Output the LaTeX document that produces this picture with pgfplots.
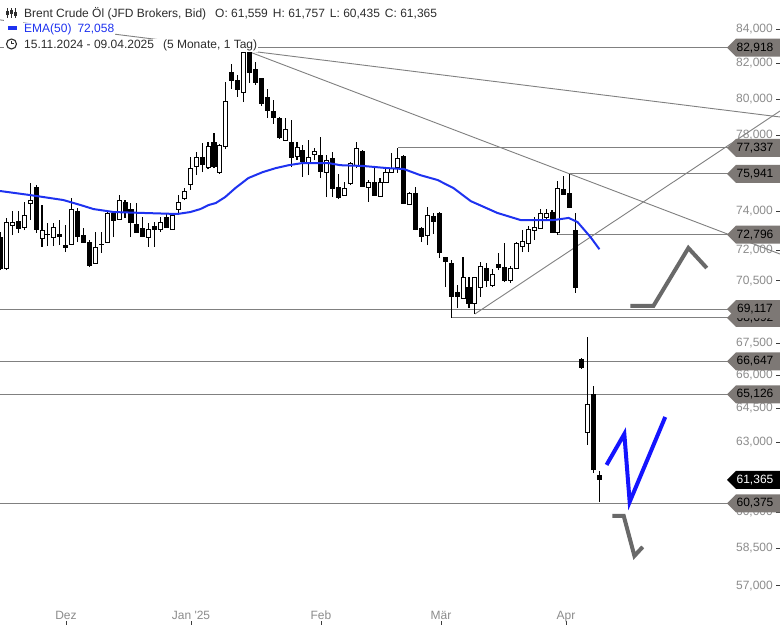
\documentclass[border=0pt]{standalone}
\usepackage{fontspec}
\setmainfont{Liberation Sans}
\usepackage{pgfplots}
\pgfplotsset{compat=1.18}
\usepackage{pgfplotstable}

\definecolor{emablue}{RGB}{30,50,240}
\definecolor{zzblue}{RGB}{20,20,255}
\definecolor{zzgray}{RGB}{105,105,105}
\definecolor{linegray}{RGB}{128,128,128}
\definecolor{taggray}{RGB}{125,120,117}
\definecolor{ticklab}{RGB}{140,140,140}
\definecolor{tickmark}{RGB}{60,60,60}
\definecolor{legtext}{RGB}{45,45,45}

\pgfplotstableread{
i o h l c
0 72.673 72.927 71.022 71.121
1 71.121 73.642 71.022 73.386
2 73.284 74.002 72.775 73.386
3 73.488 74.002 72.876 73.130
4 73.181 74.467 73.028 73.796
5 74.415 75.458 73.539 74.570
6 75.249 75.353 72.876 73.079
7 72.622 74.312 72.169 72.977
8 72.800 73.386 72.219 72.825
9 72.673 73.386 72.219 73.181
10 72.825 73.539 72.270 72.724
11 72.270 73.284 71.918 72.169
12 72.320 74.674 72.270 74.053
13 74.002 74.156 72.420 72.724
14 72.775 73.130 72.400 72.420
15 72.420 72.521 71.170 71.270
16 71.369 72.927 71.350 72.169
17 72.320 72.927 71.868 72.300
18 72.420 73.950 72.400 73.899
19 73.899 73.950 72.673 73.539
20 73.590 74.831 73.570 74.570
21 74.467 74.570 73.642 73.950
22 74.104 74.415 72.673 73.437
23 73.335 74.415 72.900 72.927
24 73.130 73.693 72.673 72.724
25 72.673 73.386 72.169 73.079
26 73.232 73.437 72.169 73.079
27 73.079 73.693 72.927 73.437
28 73.693 73.899 73.160 73.181
29 73.079 73.899 73.060 73.796
30 74.053 74.831 73.796 74.467
31 74.674 75.196 74.570 75.039
32 75.406 76.836 75.091 76.250
33 76.356 77.104 75.880 76.836
34 76.836 77.590 76.038 76.463
35 76.303 77.644 76.197 77.428
36 77.644 78.132 76.250 76.356
37 76.038 77.536 75.933 77.482
38 77.428 80.957 77.266 79.893
39 81.465 81.978 80.563 81.013
40 81.013 81.352 80.115 80.507
41 80.339 82.780 79.837 82.608
42 82.608 82.918 80.901 81.465
43 81.635 82.092 80.788 80.901
44 81.126 81.130 79.615 79.781
45 80.059 80.563 78.953 79.393
46 79.338 79.948 78.624 79.008
47 78.953 79.008 77.806 77.915
48 77.752 78.953 77.698 78.350
49 77.644 78.843 76.303 76.836
50 76.890 77.644 76.676 77.374
51 77.212 77.482 75.774 76.623
52 76.516 77.752 75.880 76.836
53 76.998 77.320 76.676 77.158
54 76.944 77.915 75.721 76.091
55 76.038 76.944 74.727 76.676
56 76.782 77.104 74.727 75.196
57 75.249 75.933 74.622 74.727
58 74.831 75.511 74.779 75.196
59 75.458 76.569 75.353 76.516
60 76.409 77.644 76.250 77.320
61 77.158 77.212 75.280 75.301
62 75.249 75.616 74.467 75.511
63 75.511 76.250 74.810 74.831
64 74.779 75.721 74.727 75.511
65 75.511 76.250 75.458 76.038
66 76.038 77.051 75.986 76.250
67 76.303 77.337 75.986 76.782
68 76.890 76.944 74.400 74.415
69 74.363 74.987 74.312 74.935
70 74.935 75.249 73.028 73.079
71 73.130 73.181 72.420 72.724
72 72.775 74.207 72.270 73.796
73 73.745 73.899 72.825 73.488
74 73.899 73.950 71.618 71.868
75 71.668 71.670 70.187 71.468
76 71.369 71.518 68.692 69.700
77 69.894 70.285 69.167 69.700
78 69.651 71.668 69.630 70.677
79 70.187 70.677 69.167 69.409
80 69.409 70.700 68.880 70.677
81 70.187 71.419 69.700 71.220
82 71.121 71.369 70.187 70.481
83 70.236 71.072 70.187 70.776
84 71.320 71.868 71.022 71.170
85 71.170 72.370 70.432 70.481
86 70.530 71.220 70.383 71.072
87 71.121 72.420 71.100 72.370
88 72.219 73.028 71.918 72.471
89 72.370 73.232 71.918 73.079
90 72.977 73.693 72.521 73.181
91 73.130 74.104 73.110 73.899
92 73.693 74.104 73.590 73.899
93 73.950 74.053 72.876 72.927
94 72.927 75.563 72.796 75.196
95 75.144 75.826 74.860 74.883
96 74.935 75.941 74.190 74.207
97 73.028 73.899 69.894 70.187
98 66.754 66.800 66.291 66.384
99 63.446 67.785 62.875 64.696
100 65.126 65.511 61.661 61.790
101 61.559 61.757 60.435 61.365
}\candles

\pgfplotstablegetrowsof{\candles}
\pgfmathtruncatemacro{\lastrow}{\pgfplotsretval-1}

\newcommand{\ptag}[4]{%
  \fill[#3] (#1) ++(0,9pt) -- ++(-44pt,0) -- ++(-9pt,-9pt) -- ++(9pt,-9pt) -- ++(44pt,0) -- cycle;
  \node[text=#4, inner sep=0pt, font=\fontsize{12}{14}\selectfont] at ([xshift=-25pt]#1) {#2};
}

\begin{document}
\begin{tikzpicture}
\useasboundingbox (0,0) rectangle (780pt,625pt);
\fill[white] (0,0) rectangle (780pt,625pt);
\begin{axis}[
  at={(0pt,0pt)}, anchor=south west,
  scale only axis, width=780pt, height=625pt,
  xmin=-0.08, xmax=131.45,
  ymode=log, ymin=55.468, ymax=85.714,
  axis line style={draw=none},
  tick align=inside,
  major tick length=4pt,
  xtick pos=left, ytick pos=right,
  yticklabel pos=right,
  xtick={11.05,32.13,54.05,74.29,95.37},
  xticklabels={Dez,Jan \textquotesingle25,Feb,Mär,Apr},
  ytick={57,58.5,60,61.5,63,64.5,66,67.5,69,70.5,72,74,76,78,80,82,84},
  yticklabels={{57,000},{58,500},{60,000},{61,500},{63,000},{64,500},{66,000},{67,500},{69,000},{70,500},{72,000},{74,000},{76,000},{78,000},{80,000},{82,000},{84,000}},
  yminorticks=false, xminorticks=false,
  tick style={draw=tickmark, line width=0.8pt},
  yticklabel style={anchor=east, xshift=-7pt, inner sep=0pt, text=ticklab, font=\fontsize{12}{14}\selectfont},
  xticklabel style={anchor=base, yshift=5pt, inner sep=0pt, text=ticklab, font=\fontsize{12}{14}\selectfont},
  clip=true,
  candlewick/.style={draw=black, line width=1.1pt, mark=none},
  candlebody/.style={draw=black, line width=0.9pt, mark=none},
  hline/.style={draw=linegray, line width=0.9pt, mark=none},
]
% horizontal levels
\addplot[hline] coordinates {(-0.08,82.918) (123.2,82.918)};
\addplot[hline] coordinates {(67,77.337) (123.2,77.337)};
\addplot[hline] coordinates {(96,75.941) (123.2,75.941)};
\addplot[hline] coordinates {(94,72.796) (123.2,72.796)};
\addplot[hline] coordinates {(-0.08,69.117) (123.2,69.117)};
\addplot[hline] coordinates {(76,68.692) (123.2,68.692)};
\addplot[hline] coordinates {(-0.08,66.647) (123.2,66.647)};
\addplot[hline] coordinates {(-0.08,65.126) (123.2,65.126)};
\addplot[hline] coordinates {(-0.08,60.375) (123.2,60.375)};
% trend lines
\addplot[hline] coordinates {(-0.08,84.528) (131.45,79.008)};
\addplot[hline] coordinates {(42.0,82.666) (131.45,71.818)};
\addplot[hline] coordinates {(80.0,68.880) (131.45,79.338)};
% candles
\pgfplotsforeachungrouped \r in {0,...,\lastrow}{%
  \pgfplotstablegetelem{\r}{i}\of\candles \let\ci\pgfplotsretval
  \pgfplotstablegetelem{\r}{o}\of\candles \let\co\pgfplotsretval
  \pgfplotstablegetelem{\r}{h}\of\candles \let\ch\pgfplotsretval
  \pgfplotstablegetelem{\r}{l}\of\candles \let\cl\pgfplotsretval
  \pgfplotstablegetelem{\r}{c}\of\candles \let\cc\pgfplotsretval
  \ifdim\cc pt<\co pt \def\cfill{black}\else\def\cfill{white}\fi
  \pgfmathsetmacro\xa{\ci-0.34}\pgfmathsetmacro\xb{\ci+0.34}%
  \edef\temp{\noexpand\addplot[candlewick] coordinates {(\ci,\cl) (\ci,\ch)};
    \noexpand\addplot[candlebody, fill=\cfill] coordinates {(\xa,\co) (\xb,\co) (\xb,\cc) (\xa,\cc)} -- cycle;}%
  \temp
}
% EMA(50)
\addplot[emablue, line width=2pt, line join=round, mark=none] coordinates {
(-0.08,75.039) (5.06,74.831) (10.6,74.570) (13.5,74.312) (15.7,74.104) (19.1,73.950)
(24.1,73.899) (29.8,73.847) (32.0,73.950) (33.7,74.104) (35.1,74.312) (36.3,74.415)
(37.9,74.727) (39.6,75.196) (41.8,75.721) (44.2,76.038) (46.4,76.250) (48.6,76.409)
(50.9,76.516) (53.1,76.516) (55.3,76.516) (57.3,76.409) (61.2,76.356) (65.3,76.250)
(68.0,76.197) (70.8,75.880) (73.7,75.616) (76.4,75.196) (79.3,74.518) (83.8,73.899)
(87.7,73.539) (93.3,73.539) (95.8,73.642) (97.3,73.437) (99.5,72.673) (101.0,72.058)};
% hand drawn scenario paths
\addplot[zzgray, line width=4pt, line join=miter, mark=none] coordinates {(106.2,69.264) (110.1,69.264) (116.0,72.118) (119.1,71.121)};
\addplot[zzblue, line width=4pt, line join=miter, mark=none] coordinates {(102.2,62.005) (105.2,63.358) (106.1,60.428) (112.1,64.112)};
\addplot[zzgray, line width=4pt, line join=miter, mark=none] coordinates {(103.2,59.842) (105.1,59.842) (106.9,58.198) (108.3,58.564)};
% tag anchors
\coordinate (t1) at (axis cs:131.45,82.918);
\coordinate (t2) at (axis cs:131.45,77.337);
\coordinate (t3) at (axis cs:131.45,75.941);
\coordinate (t4) at (axis cs:131.45,72.796);
\coordinate (t5) at (axis cs:131.45,69.117);
\coordinate (t6) at (axis cs:131.45,68.692);
\coordinate (t7) at (axis cs:131.45,66.647);
\coordinate (t8) at (axis cs:131.45,65.126);
\coordinate (t9) at (axis cs:131.45,61.365);
\coordinate (t10) at (axis cs:131.45,60.375);
\end{axis}
% price tags
\ptag{t1}{82,918}{taggray}{black}
\ptag{t2}{77,337}{taggray}{black}
\ptag{t3}{75,941}{taggray}{black}
\ptag{t4}{72,796}{taggray}{black}
\ptag{t6}{68,692}{taggray}{black}
\ptag{t5}{69,117}{taggray}{black}
\ptag{t7}{66,647}{taggray}{black}
\ptag{t8}{65,126}{taggray}{black}
\ptag{t10}{60,375}{taggray}{black}
\ptag{t9}{61,365}{black}{white}
% legend header
\fill[white] (4pt,574pt) rectangle (23pt,621pt);
\draw[legtext, line width=0.9pt] (7.5pt,607pt) -- (7.5pt,617pt);
\draw[legtext, line width=0.9pt] (11.5pt,607pt) -- (11.5pt,617pt);
\draw[legtext, line width=0.9pt] (15.5pt,607pt) -- (15.5pt,617pt);
\fill[legtext] (6.2pt,610pt) rectangle (8.8pt,614pt);
\fill[legtext] (10.2pt,611pt) rectangle (12.8pt,615pt);
\fill[legtext] (14.2pt,609pt) rectangle (16.8pt,613pt);
\fill[emablue] (8pt,595pt) rectangle (16.5pt,598.5pt);
\draw[legtext, line width=1.1pt, fill=white] (11.5pt,581pt) circle (5pt);
\draw[legtext, line width=1pt] (11.5pt,584pt) -- (11.5pt,581pt) -- (14pt,581pt);
\node[anchor=base west, inner sep=1pt, fill=white, text=legtext, font=\fontsize{12}{14}\selectfont] at (23pt,607pt)
  {Brent Crude Öl (JFD Brokers, Bid)\hspace{9pt}O: 61,559\hspace{5pt}H: 61,757\hspace{5pt}L: 60,435\hspace{5pt}C: 61,365};
\node[anchor=base west, inner sep=1pt, fill=white, text=emablue, font=\fontsize{12}{14}\selectfont] at (23pt,592pt)
  {EMA(50)\hspace{6pt}72,058};
\node[anchor=base west, inner sep=1pt, fill=white, text=legtext, font=\fontsize{12}{14}\selectfont] at (23pt,576pt)
  {15.11.2024 - 09.04.2025\hspace{9pt}(5 Monate, 1 Tag)};
\end{tikzpicture}
\end{document}
